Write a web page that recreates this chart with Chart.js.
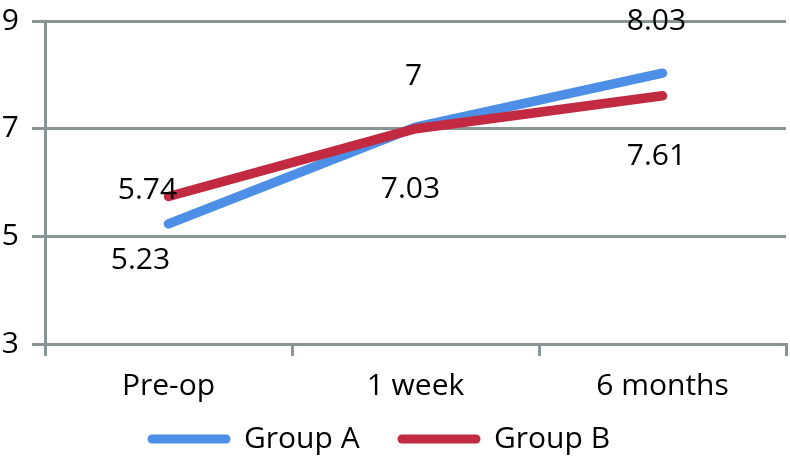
<!DOCTYPE html>
<html>
<head>
<meta charset="utf-8">
<script src="https://cdn.jsdelivr.net/npm/chart.js@4/dist/chart.umd.min.js"></script>
<style>
  html, body { margin: 0; padding: 0; background: #ffffff; }
  #wrap { width: 790px; height: 462px; position: relative; }
</style>
</head>
<body>
<div id="wrap"><canvas id="c" width="790" height="462"></canvas></div>
<script>
// ---- data ----
const categories = ['Pre-op', '1 week', '6 months'];
const groupA = [5.23, 7.03, 8.03];
const groupB = [5.74, 7, 7.61];
const yTicks = [3, 5, 7, 9];
const seriesNames = ['Group A', 'Group B'];

// ---- styles ----
const colA = '#4D8FE6';
const colB = '#C12A40';
const gridCol = '#889595';
const FONT = '"Open Sans", "Liberation Sans", sans-serif';

// label offsets (px) relative to each point, per series
const labelOffsetsA = [[-28, 36], [-5, 61], [-6, -53]];
const labelOffsetsB = [[-21, -7], [-2, -53], [-6, 60]];

const dataLabelPlugin = {
  id: 'dataLabels',
  afterDatasetsDraw(chart) {
    const ctx = chart.ctx;
    const offsets = [labelOffsetsA, labelOffsetsB];
    ctx.save();
    ctx.font = '30px ' + FONT;
    ctx.fillStyle = '#000';
    ctx.textAlign = 'center';
    ctx.textBaseline = 'middle';
    chart.data.datasets.forEach((ds, di) => {
      const meta = chart.getDatasetMeta(di);
      meta.data.forEach((pt, i) => {
        const o = offsets[di][i];
        ctx.fillText(String(ds.data[i]), pt.x + o[0], pt.y + o[1] + 1);
      });
    });
    ctx.restore();
  }
};

const legendPlugin = {
  id: 'customLegend',
  afterDraw(chart) {
    const ctx = chart.ctx;
    const y = 439;
    const items = [
      { name: seriesNames[0], color: colA, x: 148 },
      { name: seriesNames[1], color: colB, x: 398 }
    ];
    ctx.save();
    ctx.font = '30px ' + FONT;
    ctx.textBaseline = 'middle';
    ctx.textAlign = 'left';
    items.forEach(it => {
      ctx.strokeStyle = it.color;
      ctx.lineWidth = 9;
      ctx.lineCap = 'round';
      ctx.beginPath();
      ctx.moveTo(it.x + 4, y);
      ctx.lineTo(it.x + 78, y);
      ctx.stroke();
      ctx.fillStyle = '#000';
      ctx.fillText(it.name, it.x + 96, y);
    });
    ctx.restore();
  }
};

new Chart(document.getElementById('c'), {
  type: 'line',
  data: {
    labels: categories,
    datasets: [
      {
        label: seriesNames[0], data: groupA,
        borderColor: colA, backgroundColor: colA,
        borderWidth: 9.5, borderCapStyle: 'round', borderJoinStyle: 'round',
        pointRadius: 0, tension: 0, order: 1
      },
      {
        label: seriesNames[1], data: groupB,
        borderColor: colB, backgroundColor: colB,
        borderWidth: 9.5, borderCapStyle: 'round', borderJoinStyle: 'round',
        pointRadius: 0, tension: 0, order: 0
      }
    ]
  },
  options: {
    responsive: false,
    animation: false,
    devicePixelRatio: 1,
    layout: { padding: { top: 21, right: 4, left: 0, bottom: 58 } },
    plugins: { legend: { display: false }, tooltip: { enabled: false } },
    scales: {
      x: {
        offset: true,
        grid: {
          offset: true, drawOnChartArea: false, drawTicks: true,
          tickLength: 12, color: gridCol, lineWidth: 3
        },
        border: { display: true, color: gridCol, width: 3 },
        ticks: { color: '#000', font: { size: 30, family: FONT }, padding: 12, maxRotation: 0 },
        afterFit(s) { s.height = 60; s.paddingLeft = 0; s.paddingRight = 0; }
      },
      y: {
        min: 3, max: 9,
        afterBuildTicks(s) { s.ticks = yTicks.map(v => ({ value: v })); },
        grid: { color: gridCol, lineWidth: 3, drawTicks: true, tickLength: 13 },
        border: { display: true, color: gridCol, width: 3 },
        ticks: { color: '#000', font: { size: 30, family: FONT }, padding: 13 },
        afterFit(s) { s.width = 45; s.paddingTop = 0; s.paddingBottom = 0; }
      }
    }
  },
  plugins: [dataLabelPlugin, legendPlugin]
});
</script>
</body>
</html>
